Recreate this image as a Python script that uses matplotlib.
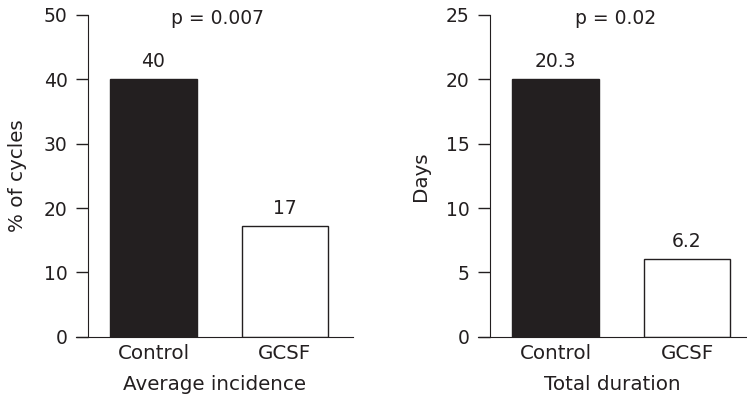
import matplotlib
import matplotlib.pyplot as plt
matplotlib.use('Agg')

plt.rcParams['font.family'] = ['DejaVu Sans']

# data
groups = ['Control', 'GCSF']
incidence = [40, 17.2]
incidence_labels = ['40', '17']
duration = [20, 6]
duration_labels = ['20.3', '6.2']

ink = '#231f20'
fs = 13.5   # numbers
fw = 14.3   # words
fig = plt.figure(figsize=(7.47, 3.99), dpi=100)

# left panel / right panel, positions in figure fraction
ax1 = fig.add_axes([76/747, 62.3/399, 277/747, 321.7/399])
ax2 = fig.add_axes([478/747, 62.3/399, 269/747, 321.7/399])

panels = [
    (ax1, incidence, incidence_labels, 50, 10, '% of cycles', 'Average incidence', 'p = 0.007', 12/277, -0.589, 1.517),
    (ax2, duration, duration_labels, 25, 5, 'Days', 'Total duration', 'p = 0.02', 12/269, -0.589, 1.456),
]

for ax, vals, labs, ymax, step, ylab, xlab, ptxt, spine_x, x0, x1 in panels:
    x = range(len(groups))
    ax.bar(x, vals, width=0.66, color=[ink, 'white'], edgecolor=ink, linewidth=1)
    for xi, v, l in zip(x, vals, labs):
        ax.annotate(l, (xi, v), xytext=(0, 6), textcoords='offset points',
                    ha='center', va='bottom', fontsize=fs, color=ink)
    ax.set_xlim(x0, x1)
    ax.set_ylim(0, ymax)
    ax.set_yticks(range(0, ymax + 1, step))
    ax.set_xticks(list(x))
    ax.set_xticklabels(groups)
    ax.tick_params(axis='x', length=0, pad=5, labelsize=fw, colors=ink)
    ax.tick_params(axis='y', length=8.6, width=1, direction='out', pad=6, labelsize=fs, colors=ink)
    # spines - only left and bottom, bottom runs past the y axis
    for s in ['top', 'right']:
        ax.spines[s].set_visible(False)
    ax.spines['left'].set_position(('axes', spine_x))
    ax.spines['left'].set_color(ink)
    ax.spines['bottom'].set_color(ink)
    ax.set_ylabel(ylab, fontsize=fw, color=ink)
    ax.set_xlabel(xlab, fontsize=fw, color=ink, labelpad=9)
    ax.text(0.51, 0.99, ptxt, transform=ax.transAxes, ha='center', va='center',
            fontsize=fs, color=ink)

# y label positions from the picture
ax1.yaxis.set_label_coords((27 - 76) / 277, 0.5)
ax2.yaxis.set_label_coords((430 - 478) / 269, 0.5)

fig.savefig('out.png', dpi=100)
